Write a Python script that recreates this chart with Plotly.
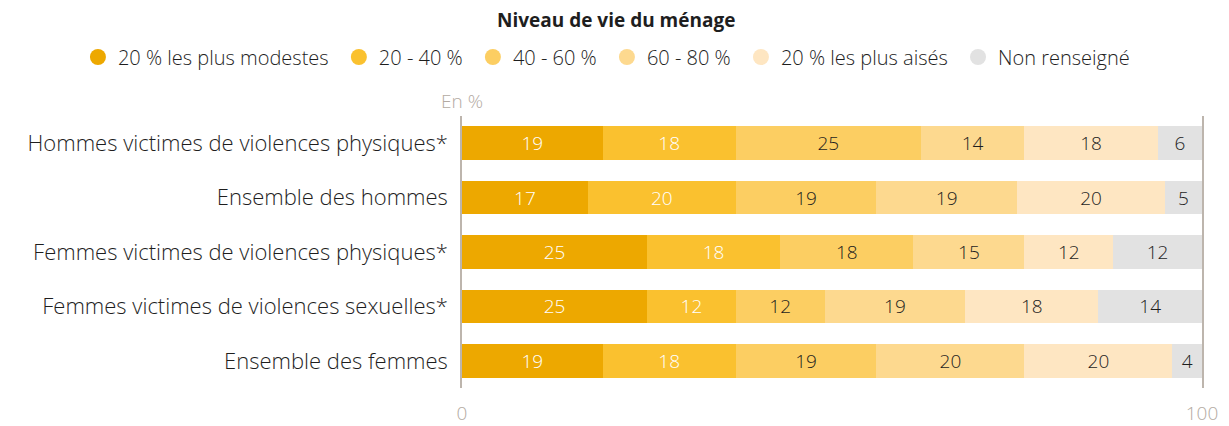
import plotly.graph_objects as go

categories = [
    "Hommes victimes de violences physiques*",
    "Ensemble des hommes",
    "Femmes victimes de violences physiques*",
    "Femmes victimes de violences sexuelles*",
    "Ensemble des femmes",
]

series_names = [
    "20 % les plus modestes",
    "20 - 40 %",
    "40 - 60 %",
    "60 - 80 %",
    "20 % les plus aisés",
    "Non renseigné",
]

q1 = [19, 17, 25, 25, 19]
q2 = [18, 20, 18, 12, 18]
q3 = [25, 19, 18, 12, 19]
q4 = [14, 19, 15, 19, 20]
q5 = [18, 20, 12, 18, 20]
nr = [6, 5, 12, 14, 4]

colors = ["#EDA800", "#FAC12F", "#FCCE62", "#FDD98F", "#FEE6C2", "#E2E2E2"]
text_colors = ["#FFFFFF", "#FFFFFF", "#1E1E1E", "#1E1E1E", "#1E1E1E", "#1E1E1E"]

x_ticks = [0, 100]
FONT = "'Open Sans', Lato, sans-serif"
AXIS_GREY = "#B3AAA2"

fig = go.Figure()
for name, vals, col, tcol in zip(series_names, [q1, q2, q3, q4, q5, nr], colors, text_colors):
    fig.add_trace(go.Bar(
        y=categories, x=vals, orientation="h", name=name,
        marker=dict(color=col, line=dict(width=0)),
        text=vals, texttemplate="%{text}", textposition="inside",
        insidetextanchor="middle", textangle=0,
        textfont=dict(color=tcol, size=19, family=FONT, weight=300),
        showlegend=False, hoverinfo="x+name",
    ))
    # legend entry with round marker (trailing no-break space widens the gap)
    fig.add_trace(go.Scatter(
        x=[None], y=[None], mode="markers", name=name + "\u00a0",
        marker=dict(color=col, size=20, symbol="circle"),
        showlegend=True,
    ))

fig.add_annotation(
    x=0, xref="x", y=1.055, yref="paper", text="En %", showarrow=False,
    xanchor="center", yanchor="middle",
    font=dict(family=FONT, size=19, color=AXIS_GREY, weight=300),
)
fig.add_annotation(
    x=0.208, xref="paper", y=1.353, yref="paper",
    text="<b>Niveau de vie du ménage</b>", showarrow=False,
    xanchor="center", yanchor="middle",
    font=dict(family=FONT, size=19, color="#1E1E1E"),
)

fig.update_layout(
    barmode="stack",
    bargap=0.38,
    width=1229, height=426,
    margin=dict(l=462, r=27, t=116, b=38, autoexpand=False),
    paper_bgcolor="white", plot_bgcolor="white",
    font=dict(family=FONT, size=19, color="#1E1E1E"),
    uniformtext=dict(minsize=19, mode="show"),
    legend=dict(
        orientation="h", xref="paper", x=-0.519, xanchor="left",
        yref="paper", y=1.217, yanchor="middle",
        font=dict(family=FONT, size=20, color="#1E1E1E", weight=300),
        itemsizing="trace",
        traceorder="normal",
    ),
    xaxis=dict(
        range=[0, 100], tickvals=x_ticks, ticktext=[str(v) for v in x_ticks],
        showgrid=False, zeroline=False, showline=False, ticks="",
        tickfont=dict(family=FONT, size=19, color=AXIS_GREY, weight=300),
        ticklabelstandoff=12, fixedrange=True, automargin=False,
    ),
    yaxis=dict(
        categoryorder="array", categoryarray=categories, autorange="reversed",
        showgrid=False, zeroline=False,
        showline=True, mirror=True, linecolor="#BDB5AD", linewidth=1.5,
        ticks="",
        tickfont=dict(family=FONT, size=22, color="#1E1E1E", weight=300),
        ticklabelstandoff=8, fixedrange=True, automargin=False,
    ),
)

fig.write_html(
    "out.html",
    config={"displayModeBar": False},
    post_script="document.body.style.margin='0';document.body.style.overflow='hidden';",
)
